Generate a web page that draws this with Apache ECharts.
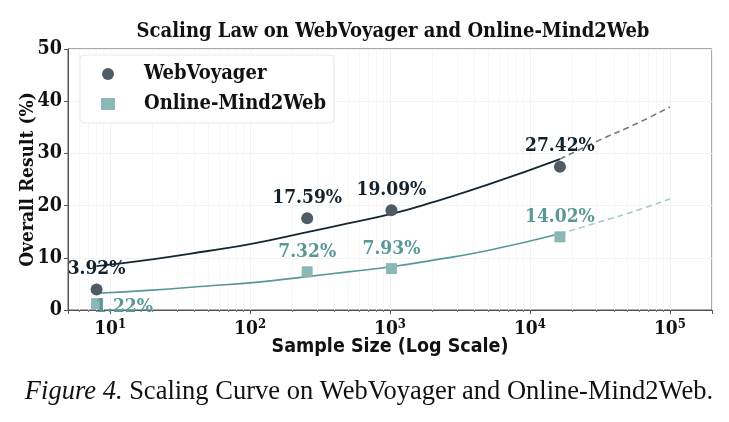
<!DOCTYPE html>
<html>
<head>
<meta charset="utf-8">
<script src="https://cdn.jsdelivr.net/npm/echarts@6/dist/echarts.min.js"></script>
<style>
  html, body { margin: 0; padding: 0; background: #fff; }
  #chart { width: 729px; height: 422px; }
</style>
</head>
<body>
<div id="chart"></div>
<script>
// measured points
const sampleSizes = [8, 256, 1024, 16384];
const webVoyager = [3.92, 17.59, 19.09, 27.42];
const onlineMind2Web = [1.22, 7.32, 7.93, 14.02];

// fitted curves
const fitX = [8, 20, 50, 100, 256, 500, 1024, 2000, 5000, 16384];
const fitWebVoyager = [8.4, 9.7, 11.3, 12.6, 14.9, 16.6, 18.4, 20.6, 24.0, 28.9];
const fitMind2Web = [3.2, 3.8, 4.6, 5.2, 6.4, 7.3, 8.3, 9.5, 11.4, 14.6];
const extX = [16384, 30000, 60000, 100000];
const extWebVoyager = [28.9, 32.3, 35.9, 38.9];
const extMind2Web = [14.6, 16.7, 19.2, 21.3];

const yTicks = [0, 10, 20, 30, 40, 50];

const serifCond = '"DejaVu Serif Condensed", "DejaVu Serif", serif';
const zip = (xs, ys) => xs.map((x, i) => [x, ys[i]]);

const chart = echarts.init(document.getElementById('chart'));

const option = {
  backgroundColor: '#fff',
  animation: false,
  title: [
    {
      text: 'Scaling Law on WebVoyager and Online-Mind2Web',
      left: 388, top: 17, textAlign: 'center',
      textStyle: { fontFamily: serifCond, fontWeight: 'bold', fontSize: 20, color: '#111' }
    },
    {
      text: '{i|Figure 4.} Scaling Curve on WebVoyager and Online-Mind2Web.',
      left: 364, top: 374, textAlign: 'center',
      textStyle: {
        fontFamily: '"Liberation Serif", serif', fontWeight: 'normal', fontSize: 26.5, color: '#111',
        rich: { i: { fontFamily: '"Liberation Serif", serif', fontStyle: 'italic', fontSize: 26.5, color: '#111' } }
      }
    }
  ],
  legend: {
    orient: 'vertical',
    left: 80, top: 55,
    padding: [9, 8, 9, 21],
    itemGap: 10,
    itemWidth: 14, itemHeight: 12,
    backgroundColor: '#fff',
    borderColor: '#e8e8e8', borderWidth: 1, borderRadius: 4,
    data: [
      { name: 'WebVoyager', icon: 'circle' },
      { name: 'Online-Mind2Web', icon: 'rect' }
    ],
    textStyle: { fontFamily: serifCond, fontWeight: 'bold', fontSize: 20, color: '#111', padding: [0, 0, 0, 24] }
  },
  grid: { left: 68, right: 17, top: 49, bottom: 112, show: true, borderColor: '#555', borderWidth: 1 },
  xAxis: {
    type: 'log',
    logBase: 10,
    min: 5, max: 200000,
    name: 'Sample Size (Log Scale)',
    nameLocation: 'middle',
    nameGap: 27,
    nameMoveOverlap: false,
    nameTextStyle: { fontFamily: '"Liberation Sans Narrow", "DejaVu Sans Condensed", sans-serif', fontWeight: 'bold', fontSize: 19.5, color: '#111' },
    axisLine: { lineStyle: { color: '#555' } },
    axisTick: { length: 4, lineStyle: { color: '#555' } },
    minorTick: { show: true, splitNumber: 9, length: 2, lineStyle: { color: '#777' } },
    splitLine: { show: true, lineStyle: { color: '#f2f2f2' } },
    minorSplitLine: { show: true, lineStyle: { color: '#f7f7f7' } },
    axisLabel: {
      showMinLabel: false, showMaxLabel: false,
      margin: 8,
      formatter: v => {
        const e = Math.round(Math.log10(v));
        return Math.abs(Math.pow(10, e) - v) < 1e-6 * v ? '10{s|' + e + '}' : '';
      },
      rich: {
        s: { fontFamily: serifCond, fontWeight: 'bold', fontSize: 13, color: '#111', verticalAlign: 'top', padding: [0, 0, 10, 0] }
      },
      fontFamily: serifCond, fontWeight: 'bold', fontSize: 19, color: '#111'
    }
  },
  yAxis: {
    type: 'value',
    min: yTicks[0], max: yTicks[yTicks.length - 1], interval: 10,
    name: 'Overall Result (%)',
    nameLocation: 'middle',
    nameGap: 30,
    nameMoveOverlap: false,
    nameTextStyle: { fontFamily: serifCond, fontWeight: 'bold', fontSize: 19, color: '#111' },
    axisLine: { show: true, lineStyle: { color: '#555' } },
    axisTick: { show: true, length: 4, lineStyle: { color: '#555' } },
    splitLine: { show: true, lineStyle: { color: '#f2f2f2' } },
    axisLabel: { margin: 6, fontFamily: serifCond, fontWeight: 'bold', fontSize: 19.5, color: '#111' }
  },
  series: [
    {
      name: 'fitWV', type: 'line', data: zip(fitX, fitWebVoyager), smooth: true,
      showSymbol: false, lineStyle: { color: '#15262f', width: 1.8 }, z: 2, silent: true
    },
    {
      name: 'extWV', type: 'line', data: zip(extX, extWebVoyager), smooth: true,
      showSymbol: false, lineStyle: { color: '#6e7a82', width: 1.6, type: [6, 4] }, z: 2, silent: true
    },
    {
      name: 'fitOM', type: 'line', data: zip(fitX, fitMind2Web), smooth: true,
      showSymbol: false, lineStyle: { color: '#579797', width: 1.6 }, z: 2, silent: true
    },
    {
      name: 'extOM', type: 'line', data: zip(extX, extMind2Web), smooth: true,
      showSymbol: false, lineStyle: { color: '#a3cbc8', width: 1.6, type: [6, 4] }, z: 2, silent: true
    },
    {
      name: 'WebVoyager', type: 'scatter', data: zip(sampleSizes, webVoyager),
      symbol: 'circle', symbolSize: 12,
      itemStyle: { color: '#4f5c66', opacity: 1 }, z: 5,
      label: {
        show: true, position: 'top', distance: 5,
        formatter: p => p.value[1].toFixed(2) + '%',
        fontFamily: serifCond, fontWeight: 'bold', fontSize: 19, color: '#12212a'
      }
    },
    {
      name: 'Online-Mind2Web', type: 'scatter',
      data: zip(sampleSizes, onlineMind2Web).map((d, i) => i === 0
        ? { value: d, label: { position: 'right', offset: [-12, 3] } }
        : d),
      symbol: 'rect', symbolSize: 11,
      itemStyle: { color: '#8db6b6', opacity: 1 }, z: 5,
      label: {
        show: true, position: 'top', distance: 5,
        formatter: p => p.value[1].toFixed(2) + '%',
        fontFamily: serifCond, fontWeight: 'bold', fontSize: 19, color: '#5a9797'
      }
    }
  ]
};

chart.setOption(option);
</script>
</body>
</html>
